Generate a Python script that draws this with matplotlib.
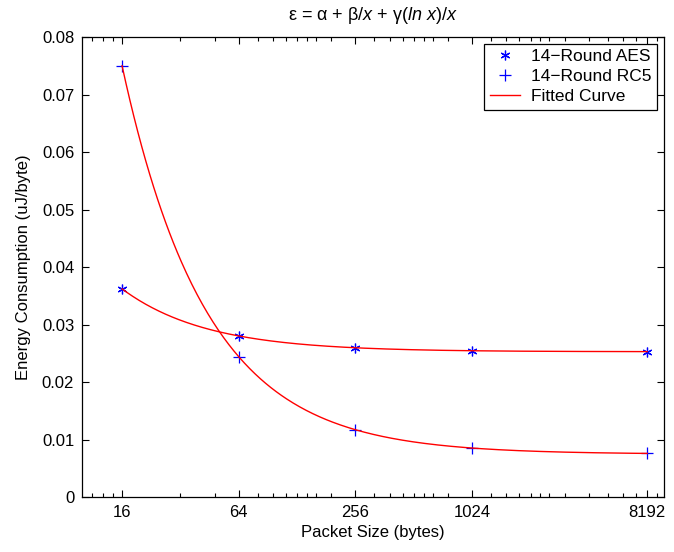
import numpy as np
import matplotlib
matplotlib.use("Agg")
import matplotlib.pyplot as plt
from matplotlib.ticker import FixedLocator, FixedFormatter, NullFormatter

plt.rcParams['font.family'] = ['Liberation Sans', 'DejaVu Sans']
plt.rcParams['mathtext.fontset'] = 'custom'
plt.rcParams['mathtext.rm'] = 'Liberation Sans'
plt.rcParams['mathtext.it'] = 'Liberation Sans:italic'

# Measured energy per byte for each packet size
packet_sizes = [16, 64, 256, 1024, 8192]
aes_energy = [0.0362, 0.0280, 0.0260, 0.0254, 0.0253]
rc5_energy = [0.0750, 0.0244, 0.0117, 0.0085, 0.0076]

x_tick_labels = ['16', '64', '256', '1024', '8192']
y_ticks = [0, 0.01, 0.02, 0.03, 0.04, 0.05, 0.06, 0.07, 0.08]
x_minor_ticks = [11.2, 12.8, 14.4, 32, 48,
                 80, 96, 112, 128, 144, 160, 192,
                 320, 384, 448, 512, 576, 640, 768,
                 1280, 1536, 1792, 2048, 2304, 2560, 3072, 4096, 5120, 6144, 7168, 9216]


def fit_model(x, y):
    """Least-squares fit of e = a + b/x + c*ln(x)/x."""
    x = np.asarray(x, float)
    A = np.column_stack([np.ones_like(x), 1.0 / x, np.log(x) / x])
    coef, *_ = np.linalg.lstsq(A, np.asarray(y, float), rcond=None)
    return coef


def model(coef, x):
    return coef[0] + coef[1] / x + coef[2] * np.log(x) / x


fig = plt.figure(figsize=(6.74, 5.52), dpi=100)
ax = fig.add_axes([0.1224, 0.0996, 0.8628, 0.8333])

asterisk = (6, 2, 0)
ax.plot(packet_sizes, aes_energy, linestyle='none', marker=asterisk,
        markersize=7, markeredgewidth=0.9, color='blue', label='14\u2212Round AES')
ax.plot(packet_sizes, rc5_energy, linestyle='none', marker='+',
        markersize=8, markeredgewidth=0.9, color='blue', label='14\u2212Round RC5')

xs = np.logspace(np.log10(packet_sizes[0]), np.log10(packet_sizes[-1]), 400)
c_aes = fit_model(packet_sizes, aes_energy)
c_rc5 = fit_model(packet_sizes, rc5_energy)
ax.plot(xs, model(c_aes, xs), color='red', linewidth=1.0, label='Fitted Curve')
ax.plot(xs, model(c_rc5, xs), color='red', linewidth=1.0)

ax.set_xscale('log')
ax.set_xlim(10, 10000)
ax.set_ylim(0, 0.08)

ax.xaxis.set_major_locator(FixedLocator(packet_sizes))
ax.xaxis.set_major_formatter(FixedFormatter(x_tick_labels))
ax.xaxis.set_minor_locator(FixedLocator(x_minor_ticks))
ax.xaxis.set_minor_formatter(NullFormatter())
ax.set_yticks(y_ticks)
ax.set_yticklabels(['%g' % v for v in y_ticks])

ax.tick_params(which='both', direction='in', top=True, right=True,
               labelsize=12, width=0.8)
ax.tick_params(which='major', length=5, pad=6)
ax.tick_params(which='minor', length=3)
for s in ax.spines.values():
    s.set_linewidth(0.9)

ax.set_xlabel('Packet Size (bytes)', fontsize=12, labelpad=3)
ax.set_ylabel('Energy Consumption (uJ/byte)', fontsize=12, labelpad=8)
ax.set_title(r'ε = α + β/$x$ + γ($\mathit{ln\ x}$)/$x$', fontsize=13, pad=12)

leg = ax.legend(loc='upper right', fontsize=12.5, frameon=True, fancybox=False,
                edgecolor='black', framealpha=1, borderaxespad=0.4,
                handlelength=1.75, borderpad=0.3, labelspacing=0.28,
                handletextpad=0.65)
leg.get_frame().set_linewidth(0.9)

fig.savefig('out.png', dpi=100)
